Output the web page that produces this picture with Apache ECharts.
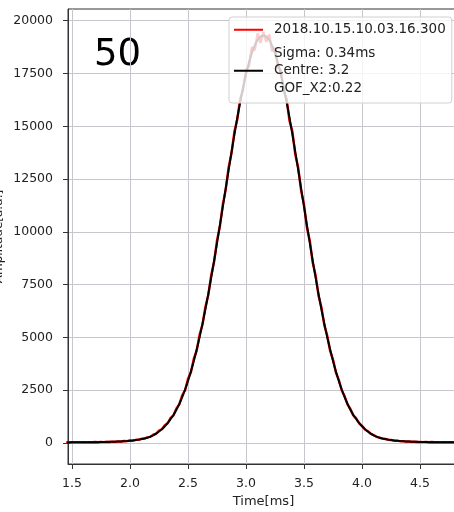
<!DOCTYPE html>
<html>
<head lang="en">
    <meta charset="UTF-8">
    <title>Pulse</title>
    <style>
        html, body {margin:0; padding:0; background:#fff;}
        #main {width:454px; height:512px;}
    </style>
</head>
<body>
<div id="main"></div>

<script src="https://cdn.jsdelivr.net/npm/echarts@6.0.0/dist/echarts.min.js"></script>
<script>
    // time samples [ms]
    var timeMs = [
        1.450,1.475,1.500,1.525,1.550,1.575,1.600,1.625,1.650,1.675,
        1.700,1.725,1.750,1.775,1.800,1.825,1.850,1.875,1.900,1.925,
        1.950,1.975,2.000,2.025,2.050,2.075,2.100,2.125,2.150,2.175,
        2.200,2.225,2.250,2.275,2.300,2.325,2.350,2.375,2.400,2.425,
        2.450,2.475,2.500,2.525,2.550,2.575,2.600,2.625,2.650,2.675,
        2.700,2.725,2.750,2.775,2.800,2.825,2.850,2.875,2.900,2.925,
        2.950,2.975,3.000,3.025,3.050,3.075,3.100,3.125,3.150,3.175,
        3.200,3.225,3.250,3.275,3.300,3.325,3.350,3.375,3.400,3.425,
        3.450,3.475,3.500,3.525,3.550,3.575,3.600,3.625,3.650,3.675,
        3.700,3.725,3.750,3.775,3.800,3.825,3.850,3.875,3.900,3.925,
        3.950,3.975,4.000,4.025,4.050,4.075,4.100,4.125,4.150,4.175,
        4.200,4.225,4.250,4.275,4.300,4.325,4.350,4.375,4.400,4.425,
        4.450,4.475,4.500,4.525,4.550,4.575,4.600,4.625,4.650,4.675,
        4.700,4.725,4.750,4.775,4.800
    ];

    // measured signal (red)
    var measured = [
        35,24,38,27,36,28,40,31,43,34,
        46,38,50,42,56,50,66,58,78,72,
        95,88,118,114,150,152,200,205,268,290,
        395,440,585,650,840,935,1190,1310,1640,1830,
        2260,2500,3040,3350,3990,4380,5130,5610,6450,7010,
        7950,8580,9590,10260,11300,12000,13050,13720,14750,15330,
        16300,16750,17650,17850,18750,18600,19400,18950,19450,19000,
        19350,18550,18700,17800,17650,16650,16300,15250,14750,13650,
        13050,11950,11300,10200,9580,8540,7940,6980,6430,5580,
        5090,4370,3950,3340,2990,2500,2220,1830,1610,1305,
        1165,935,815,645,560,438,378,292,258,208,
        192,154,145,114,110,88,88,70,72,58,
        62,49,54,42,48,37,44,33,41,30,
        38,28,36,27,34
    ];

    // gaussian fit (black)
    var fitted = [
        29,29,30,30,31,32,33,34,36,37,
        39,41,43,46,49,53,57,62,68,75,
        83,93,105,120,138,160,185,215,250,299,
        366,447,543,657,792,950,1135,1329,1574,1856,
        2175,2535,2938,3386,3882,4424,5015,5652,6337,7063,
        7830,8631,9462,10315,11182,12055,12925,13779,14609,15403,
        16150,16838,17459,18002,18459,18822,19086,19246,19300,19246,
        19086,18822,18459,18002,17459,16838,16150,15403,14609,13779,
        12925,12055,11182,10315,9462,8631,7830,7063,6337,5652,
        5015,4424,3882,3386,2938,2535,2175,1856,1574,1329,
        1135,950,792,657,543,447,366,299,250,215,
        185,160,138,120,105,93,83,75,68,62,
        57,53,49,46,43,41,39,37,36,34,
        33,32,31,30,30
    ];

    var xTicks = [1.5, 2.0, 2.5, 3.0, 3.5, 4.0, 4.5];
    var yTicks = [0, 2500, 5000, 7500, 10000, 12500, 15000, 17500, 20000];

    var runName = '2018.10.15.10.03.16.300';
    var fitName = 'Sigma: 0.34ms\nCentre: 3.2\nGOF_X2:0.22';
    var shotLabel = '50';

    function pairs(xs, ys) {
        return xs.map(function (x, i) { return [x, ys[i]]; });
    }

    var font = 'DejaVu Sans';
    var myChart = echarts.init(document.getElementById('main'));

    var option = {
        animation: false,
        backgroundColor: '#ffffff',
        grid: {
            left: 68, right: -5, top: 9, bottom: 48,
            containLabel: false,
            outerBoundsMode: 'none',
            show: true, borderColor: '#333333', borderWidth: 1,
            backgroundColor: 'transparent'
        },
        legend: {
            orient: 'vertical',
            left: 229, top: 17,
            padding: [4, 6, 6, 5],
            itemGap: 6,
            icon: 'rect',
            itemWidth: 29, itemHeight: 2,
            backgroundColor: 'rgba(255,255,255,0.8)',
            borderColor: '#d0d0d0', borderWidth: 1, borderRadius: 3,
            textStyle: {
                fontFamily: font, fontSize: 13.5, lineHeight: 17.5,
                color: '#222222', padding: [0, 0, 0, 6]
            },
            data: [runName, fitName]
        },
        xAxis: {
            type: 'value',
            min: 1.4655, max: 4.836,
            name: 'Time[ms]',
            nameLocation: 'middle',
            nameGap: 31,
            nameTextStyle: {fontFamily: font, fontSize: 13, color: '#222222'},
            axisLine: {show: true, onZero: false, lineStyle: {color: '#333333', width: 1}},
            axisTick: {show: true, inside: false, length: 5, customValues: xTicks,
                lineStyle: {color: '#333333'}},
            axisLabel: {
                customValues: xTicks, margin: 13,
                fontFamily: font, fontSize: 12.5, color: '#222222',
                formatter: function (v) { return v.toFixed(1); }
            },
            splitLine: {show: true, lineStyle: {color: '#c8c6cc', width: 1}}
        },
        yAxis: {
            type: 'value',
            min: -995, max: 20554,
            name: 'Amplitude[a.u.]',
            nameLocation: 'middle',
            nameGap: 63,
            nameMoveOverlap: false,
            nameTextStyle: {fontFamily: font, fontSize: 12, color: '#222222'},
            axisLine: {show: true, onZero: false, lineStyle: {color: '#333333', width: 1}},
            axisTick: {show: true, inside: false, length: 5, customValues: yTicks,
                lineStyle: {color: '#333333'}},
            axisLabel: {
                customValues: yTicks, margin: 15,
                fontFamily: font, fontSize: 12.5, color: '#222222',
                formatter: function (v) { return String(v); }
            },
            splitLine: {show: true, lineStyle: {color: '#c8c6cc', width: 1}}
        },
        graphic: [{
            type: 'text',
            left: 94, top: 37,
            style: {
                text: shotLabel,
                font: '37px "DejaVu Sans"',
                fill: '#000000'
            }
        }],
        series: [{
            name: runName,
            type: 'line',
            symbol: 'none',
            data: pairs(timeMs, measured),
            lineStyle: {color: '#ff0000', width: 2.4},
            itemStyle: {color: '#ff0000'},
            z: 2
        }, {
            name: fitName,
            type: 'line',
            symbol: 'none',
            smooth: 0.3,
            data: pairs(timeMs, fitted),
            lineStyle: {color: '#000000', width: 2},
            itemStyle: {color: '#000000'},
            z: 3
        }]
    };
    myChart.setOption(option);
</script>
</body>
</html>
